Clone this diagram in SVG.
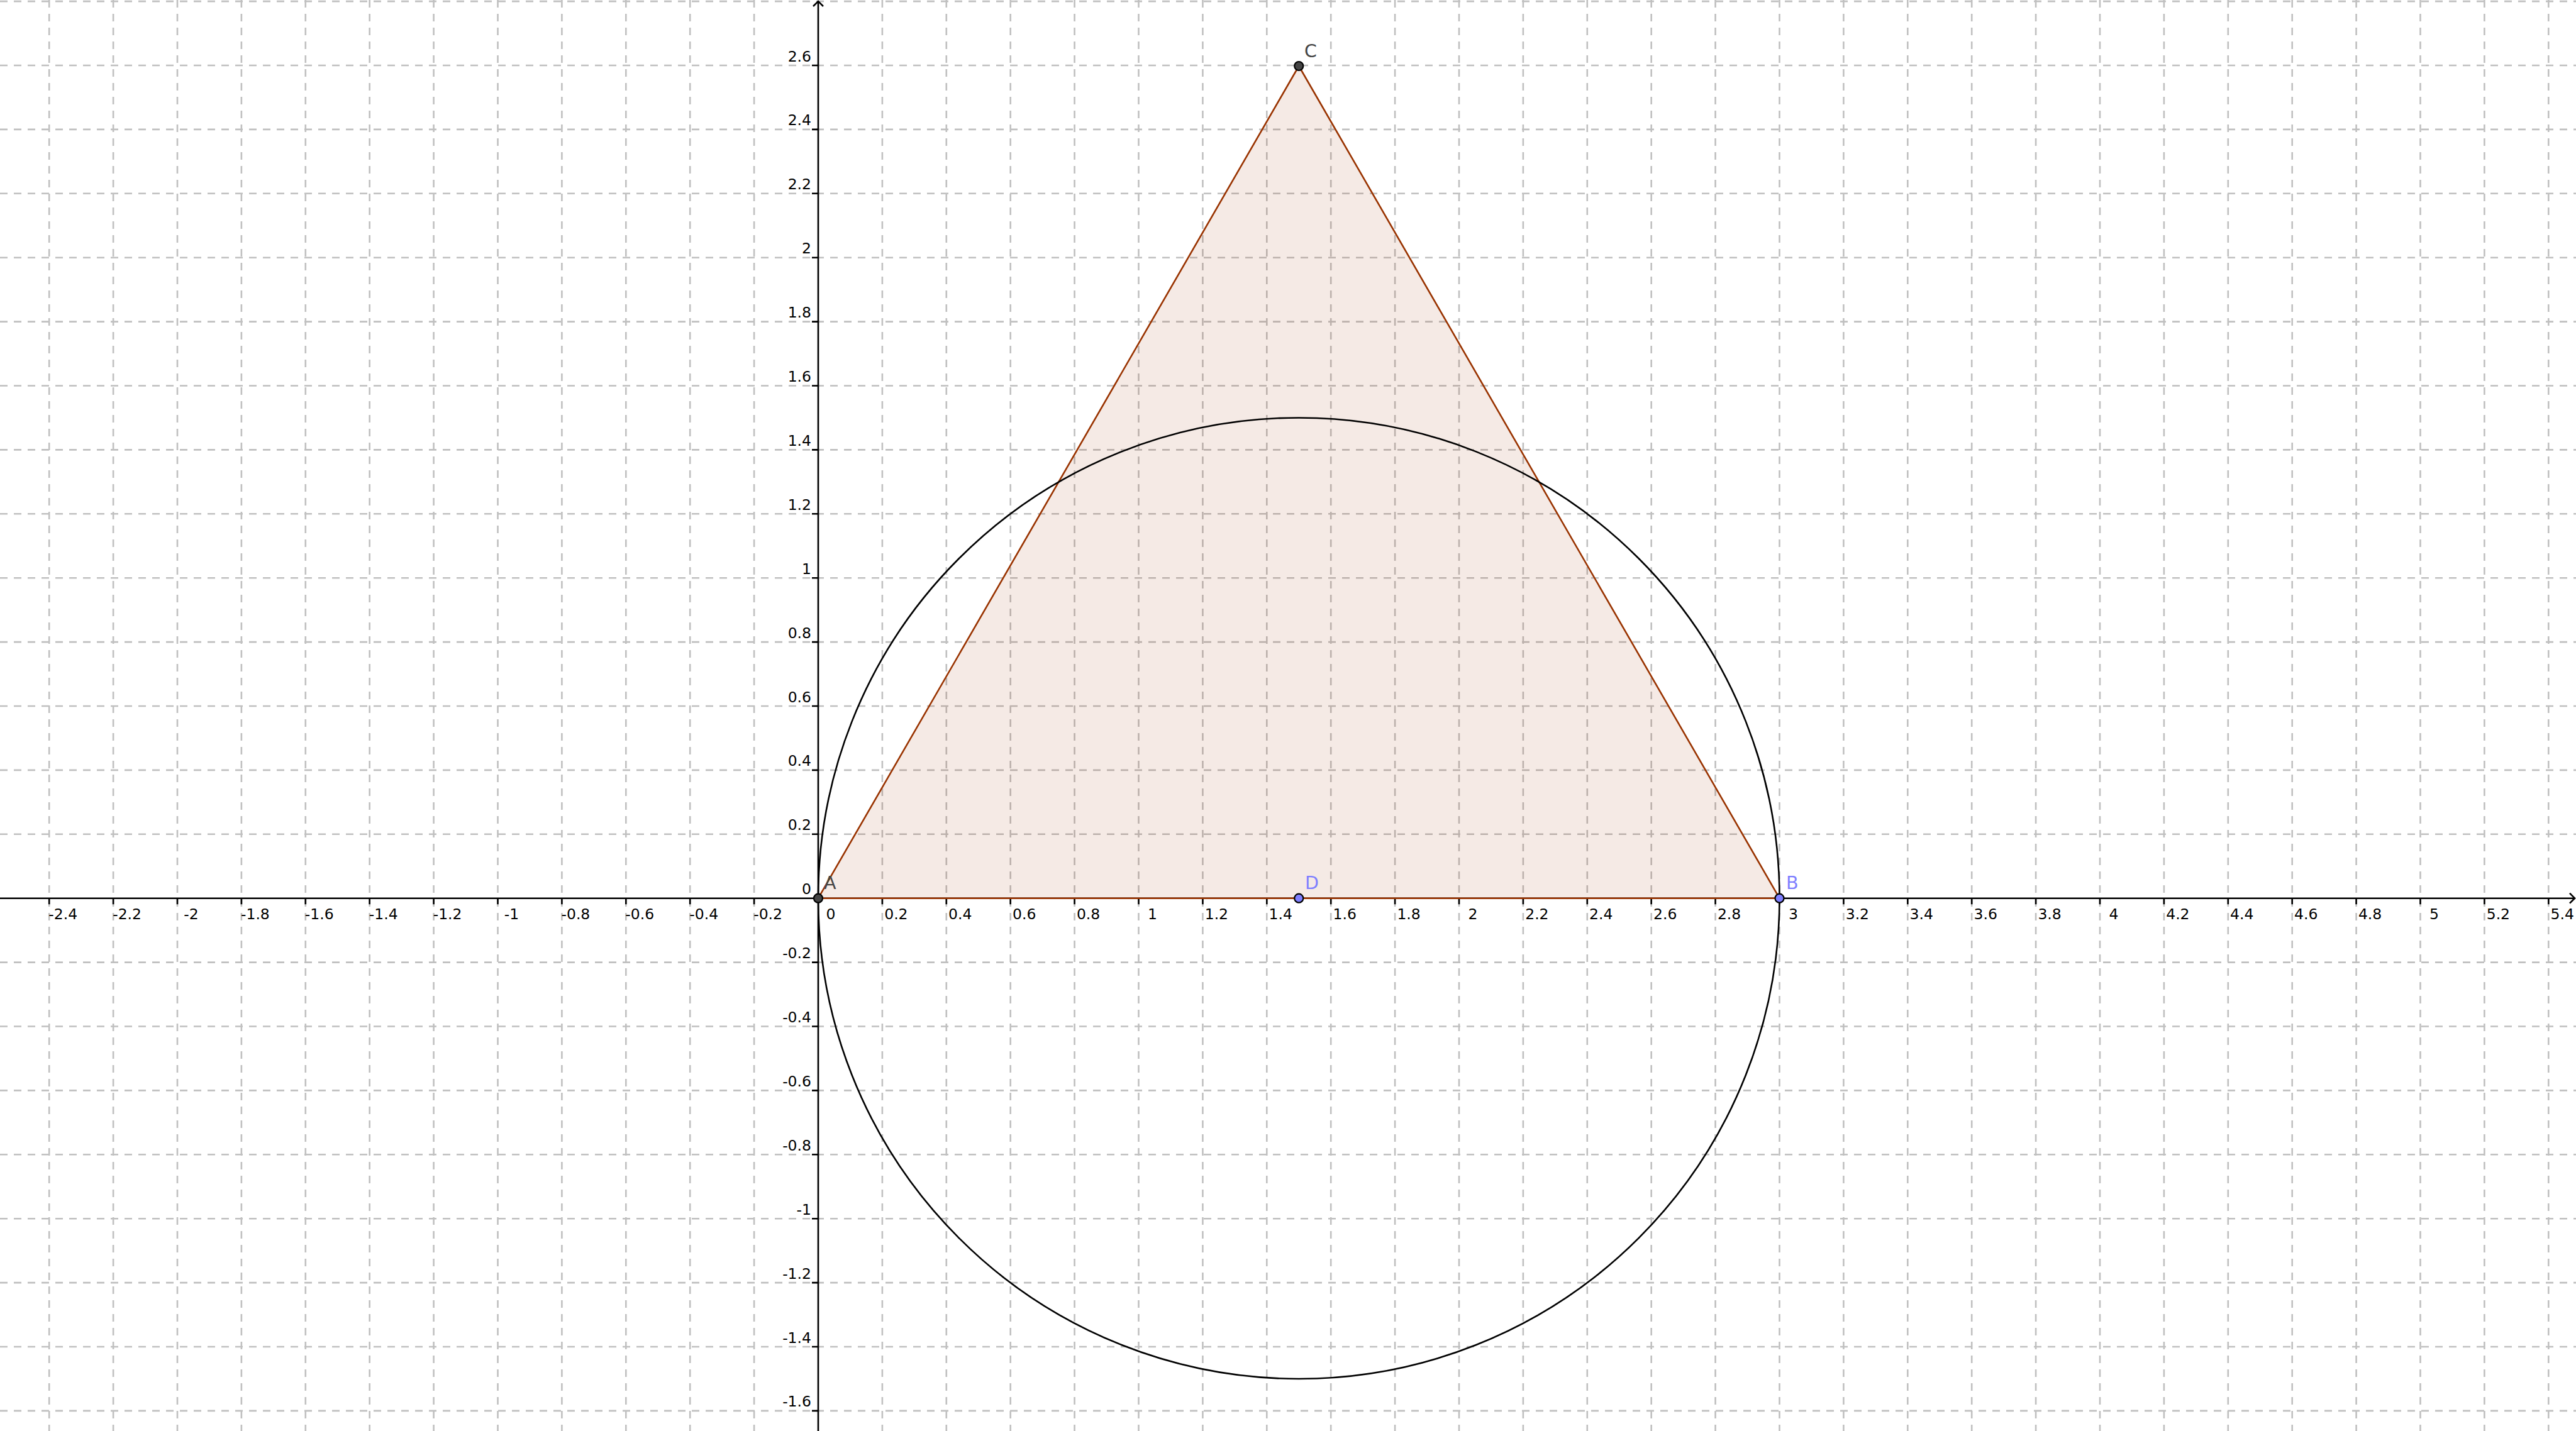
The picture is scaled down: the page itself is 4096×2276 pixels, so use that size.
<svg xmlns="http://www.w3.org/2000/svg" width="4096" height="2276" viewBox="0 0 4096 2276">
<defs>
<style>
.grid{stroke:#c0c0c0;stroke-width:2.6;stroke-dasharray:12 10;fill:none}
.axis{stroke:#000;stroke-width:2.6;fill:none}
.tk{font-family:"DejaVu Sans","Liberation Sans",sans-serif;font-size:23.5px;fill:#000}
.xl{text-anchor:middle}
.yl{text-anchor:end}
.pl{font-family:"DejaVu Sans","Liberation Sans",sans-serif;font-size:28.5px}
.ptA{fill:#444;stroke:#000;stroke-width:2.2}
.ptB{fill:#7f7fff;stroke:#000;stroke-width:2.2}
</style>
<marker id="arr" markerUnits="userSpaceOnUse" markerWidth="24" markerHeight="24" viewBox="-12 -12 24 24" refX="0" refY="0" orient="auto" overflow="visible">
<path d="M-8,-8 L0,0 L-8,8" fill="none" stroke="#000" stroke-width="2.6"/>
</marker>
</defs>
<rect width="4096" height="2276" fill="#fff"/>
<g id="grid">
<path class="grid" d="M78.2 0V2276M180.1 0V2276M282 0V2276M383.9 0V2276M485.8 0V2276M587.7 0V2276M689.6 0V2276M791.5 0V2276M893.4 0V2276M995.3 0V2276M1097.2 0V2276M1199.1 0V2276M1402.9 0V2276M1504.8 0V2276M1606.7 0V2276M1708.6 0V2276M1810.5 0V2276M1912.4 0V2276M2014.3 0V2276M2116.2 0V2276M2218.1 0V2276M2320 0V2276M2421.9 0V2276M2523.8 0V2276M2625.7 0V2276M2727.6 0V2276M2829.5 0V2276M2931.4 0V2276M3033.3 0V2276M3135.2 0V2276M3237.1 0V2276M3339 0V2276M3440.9 0V2276M3542.8 0V2276M3644.7 0V2276M3746.6 0V2276M3848.5 0V2276M3950.4 0V2276M4052.3 0V2276"/>
<path class="grid" d="M0 2.1H4096M0 104H4096M0 205.9H4096M0 307.8H4096M0 409.7H4096M0 511.6H4096M0 613.5H4096M0 715.4H4096M0 817.3H4096M0 919.2H4096M0 1021.1H4096M0 1123H4096M0 1224.9H4096M0 1326.8H4096M0 1530.6H4096M0 1632.5H4096M0 1734.4H4096M0 1836.3H4096M0 1938.2H4096M0 2040.1H4096M0 2142H4096M0 2243.9H4096"/>
</g>
<g id="axes">
<line class="axis" x1="0" y1="1428.7" x2="4094" y2="1428.7" marker-end="url(#arr)"/>
<line class="axis" x1="1301" y1="2276" x2="1301" y2="2" marker-end="url(#arr)"/>
<path class="axis" d="M78.2 1428.7v9.5M180.1 1428.7v9.5M282 1428.7v9.5M383.9 1428.7v9.5M485.8 1428.7v9.5M587.7 1428.7v9.5M689.6 1428.7v9.5M791.5 1428.7v9.5M893.4 1428.7v9.5M995.3 1428.7v9.5M1097.2 1428.7v9.5M1199.1 1428.7v9.5M1402.9 1428.7v9.5M1504.8 1428.7v9.5M1606.7 1428.7v9.5M1708.6 1428.7v9.5M1810.5 1428.7v9.5M1912.4 1428.7v9.5M2014.3 1428.7v9.5M2116.2 1428.7v9.5M2218.1 1428.7v9.5M2320 1428.7v9.5M2421.9 1428.7v9.5M2523.8 1428.7v9.5M2625.7 1428.7v9.5M2727.6 1428.7v9.5M2829.5 1428.7v9.5M2931.4 1428.7v9.5M3033.3 1428.7v9.5M3135.2 1428.7v9.5M3237.1 1428.7v9.5M3339 1428.7v9.5M3440.9 1428.7v9.5M3542.8 1428.7v9.5M3644.7 1428.7v9.5M3746.6 1428.7v9.5M3848.5 1428.7v9.5M3950.4 1428.7v9.5M4052.3 1428.7v9.5"/>
<path class="axis" d="M1301 104h-10M1301 205.9h-10M1301 307.8h-10M1301 409.7h-10M1301 511.6h-10M1301 613.5h-10M1301 715.4h-10M1301 817.3h-10M1301 919.2h-10M1301 1021.1h-10M1301 1123h-10M1301 1224.9h-10M1301 1326.8h-10M1301 1530.6h-10M1301 1632.5h-10M1301 1734.4h-10M1301 1836.3h-10M1301 1938.2h-10M1301 2040.1h-10M1301 2142h-10M1301 2243.9h-10"/>
<g class="tk xl">
<text x="100.2" y="1462">-2.4</text>
<text x="202.1" y="1462">-2.2</text>
<text x="304" y="1462">-2</text>
<text x="405.9" y="1462">-1.8</text>
<text x="507.8" y="1462">-1.6</text>
<text x="609.7" y="1462">-1.4</text>
<text x="711.6" y="1462">-1.2</text>
<text x="813.5" y="1462">-1</text>
<text x="915.4" y="1462">-0.8</text>
<text x="1017.3" y="1462">-0.6</text>
<text x="1119.2" y="1462">-0.4</text>
<text x="1221.1" y="1462">-0.2</text>
<text x="1321" y="1462">0</text>
<text x="1424.9" y="1462">0.2</text>
<text x="1526.8" y="1462">0.4</text>
<text x="1628.7" y="1462">0.6</text>
<text x="1730.6" y="1462">0.8</text>
<text x="1832.5" y="1462">1</text>
<text x="1934.4" y="1462">1.2</text>
<text x="2036.3" y="1462">1.4</text>
<text x="2138.2" y="1462">1.6</text>
<text x="2240.1" y="1462">1.8</text>
<text x="2342" y="1462">2</text>
<text x="2443.9" y="1462">2.2</text>
<text x="2545.8" y="1462">2.4</text>
<text x="2647.7" y="1462">2.6</text>
<text x="2749.6" y="1462">2.8</text>
<text x="2851.5" y="1462">3</text>
<text x="2953.4" y="1462">3.2</text>
<text x="3055.3" y="1462">3.4</text>
<text x="3157.2" y="1462">3.6</text>
<text x="3259.1" y="1462">3.8</text>
<text x="3361" y="1462">4</text>
<text x="3462.9" y="1462">4.2</text>
<text x="3564.8" y="1462">4.4</text>
<text x="3666.7" y="1462">4.6</text>
<text x="3768.6" y="1462">4.8</text>
<text x="3870.5" y="1462">5</text>
<text x="3972.4" y="1462">5.2</text>
<text x="4074.3" y="1462">5.4</text>
</g>
<g class="tk yl">
<text x="1290" y="97.5">2.6</text>
<text x="1290" y="199.4">2.4</text>
<text x="1290" y="301.3">2.2</text>
<text x="1290" y="403.2">2</text>
<text x="1290" y="505.1">1.8</text>
<text x="1290" y="607">1.6</text>
<text x="1290" y="708.9">1.4</text>
<text x="1290" y="810.8">1.2</text>
<text x="1290" y="912.7">1</text>
<text x="1290" y="1014.6">0.8</text>
<text x="1290" y="1116.5">0.6</text>
<text x="1290" y="1218.4">0.4</text>
<text x="1290" y="1320.3">0.2</text>
<text x="1290" y="1422.2">0</text>
<text x="1290" y="1524.1">-0.2</text>
<text x="1290" y="1626">-0.4</text>
<text x="1290" y="1727.9">-0.6</text>
<text x="1290" y="1829.8">-0.8</text>
<text x="1290" y="1931.7">-1</text>
<text x="1290" y="2033.6">-1.2</text>
<text x="1290" y="2135.5">-1.4</text>
<text x="1290" y="2237.4">-1.6</text>
</g>
</g>
<g id="connectors">
<polygon id="triangle" points="1301,1428.7 2829.5,1428.7 2065.25,105" fill="#993300" fill-opacity="0.1" stroke="#993300" stroke-width="2.6" stroke-linejoin="round"/>
<circle id="circle" cx="2065.25" cy="1428.7" r="764.25" fill="none" stroke="#000" stroke-width="2.6"/>
</g>
<g id="A"><circle class="ptA" cx="1301" cy="1428.7" r="7"/><text class="pl" x="1310" y="1414" fill="#444">A</text></g>
<g id="B"><circle class="ptB" cx="2829.5" cy="1428.7" r="7"/><text class="pl" x="2840" y="1414" fill="#7f7fff">B</text></g>
<g id="C"><circle class="ptA" cx="2065.25" cy="105" r="7"/><text class="pl" x="2074" y="90.6" fill="#444">C</text></g>
<g id="D"><circle class="ptB" cx="2065.25" cy="1428.7" r="7"/><text class="pl" x="2075" y="1414" fill="#7f7fff">D</text></g>
</svg>
